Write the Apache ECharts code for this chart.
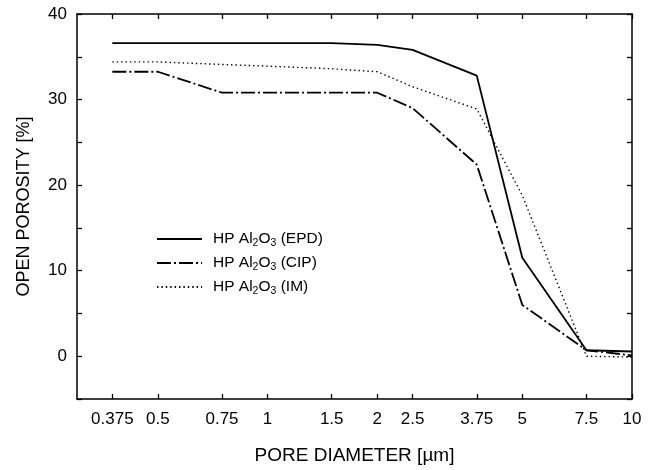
<!DOCTYPE html>
<html>
<head>
<meta charset="utf-8">
<script src="https://cdn.jsdelivr.net/npm/echarts@6/dist/echarts.min.js"></script>
<style>html,body{margin:0;padding:0;background:#fff}#c{width:653px;height:470px}</style>
</head>
<body>
<div id="c"></div>
<script>
// Data
var poreDiameters = [0.375, 0.5, 0.75, 1, 1.5, 2, 2.5, 3.75, 5, 7.5, 10];
var xTickValues = [0.375, 0.5, 0.75, 1, 1.5, 2, 2.5, 3.75, 5, 7.5, 10];
var epd = [36.6, 36.6, 36.6, 36.6, 36.6, 36.4, 35.8, 32.8, 11.5, 0.7, 0.55];
var cip = [33.25, 33.25, 30.8, 30.8, 30.8, 30.8, 29.0, 22.4, 6.0, 0.7, 0.1];
var im  = [34.4, 34.4, 34.1, 33.9, 33.6, 33.25, 31.5, 28.9, 18.8, 0.0, -0.1];
var seriesNames = ['EPD', 'CIP', 'IM'];

function pairs(vals) { return poreDiameters.map(function (d, i) { return [d, vals[i]]; }); }
function legendName(tag) { return 'HP Al{s|2}O{s|3} (' + tag + ')'; }

var font = 'Liberation Sans, Arial, Helvetica, sans-serif';
var chart = echarts.init(document.getElementById('c'), null, {renderer: 'canvas'});
var axisLineStyle = {color: '#000', width: 1.5};
var xCommon = {
  type: 'log', logBase: 10, min: 0.3, max: 10,
  splitLine: {show: false}, minorTick: {show: false},
  axisLine: {show: true, onZero: false, lineStyle: axisLineStyle},
  axisTick: {show: true, inside: true, length: 5, customValues: xTickValues, lineStyle: {color: '#000', width: 1.3}}
};
var yCommon = {
  type: 'value', min: -5, max: 40, interval: 5,
  splitLine: {show: false},
  axisLine: {show: true, onZero: false, lineStyle: axisLineStyle},
  axisTick: {show: true, inside: true, length: 5, lineStyle: {color: '#000', width: 1.3}}
};
var option = {
  backgroundColor: '#fff',
  animation: false,
  textStyle: {fontFamily: font},
  grid: {left: 77, right: 21, top: 14, bottom: 67, containLabel: false},
  legend: {
    orient: 'vertical', left: 151, top: 226,
    itemWidth: 45, itemHeight: 14, itemGap: 6,
    itemStyle: {opacity: 0},
    data: seriesNames.map(function (n) { return legendName(n); }),
    textStyle: {
      fontSize: 15.5, color: '#000', fontFamily: font, padding: [0, 0, 0, 6],
      rich: {s: {fontSize: 10.5, verticalAlign: 'bottom', lineHeight: 20, fontFamily: font, color: '#000'}}
    }
  },
  xAxis: [
    Object.assign({}, xCommon, {
      position: 'bottom',
      name: 'PORE DIAMETER [\u00b5m]', nameLocation: 'middle', nameGap: 47,
      nameTextStyle: {fontSize: 19, color: '#000', fontFamily: font},
      axisLabel: {show: true, customValues: xTickValues, margin: 12, fontSize: 17, color: '#000', fontFamily: font,
        formatter: function (v) { return String(+v.toPrecision(6)); }}
    }),
    Object.assign({}, xCommon, {position: 'top', axisLabel: {show: false}})
  ],
  yAxis: [
    Object.assign({}, yCommon, {
      position: 'left',
      name: 'OPEN POROSITY [%]', nameLocation: 'middle', nameGap: 44, nameRotate: 90,
      nameTextStyle: {fontSize: 18, color: '#000', fontFamily: font},
      axisLabel: {show: true, margin: 10, fontSize: 17, color: '#000', fontFamily: font,
        formatter: function (v) { return (v % 10 === 0) ? String(v) : ''; }}
    }),
    Object.assign({}, yCommon, {position: 'right', axisLabel: {show: false}})
  ],
  series: [
    {name: legendName('EPD'), type: 'line', data: pairs(epd), showSymbol: false, symbol: 'none',
      lineStyle: {color: '#000', width: 1.8, type: 'solid'}, itemStyle: {color: '#000'}},
    {name: legendName('CIP'), type: 'line', data: pairs(cip), showSymbol: false, symbol: 'none',
      lineStyle: {color: '#000', width: 1.8, type: [14, 3, 2, 3]}, itemStyle: {color: '#000'}},
    {name: legendName('IM'), type: 'line', data: pairs(im), showSymbol: false, symbol: 'none',
      lineStyle: {color: '#000', width: 1.4, type: [1.4, 3]}, itemStyle: {color: '#000'}}
  ]
};
chart.setOption(option);
</script>
</body>
</html>
